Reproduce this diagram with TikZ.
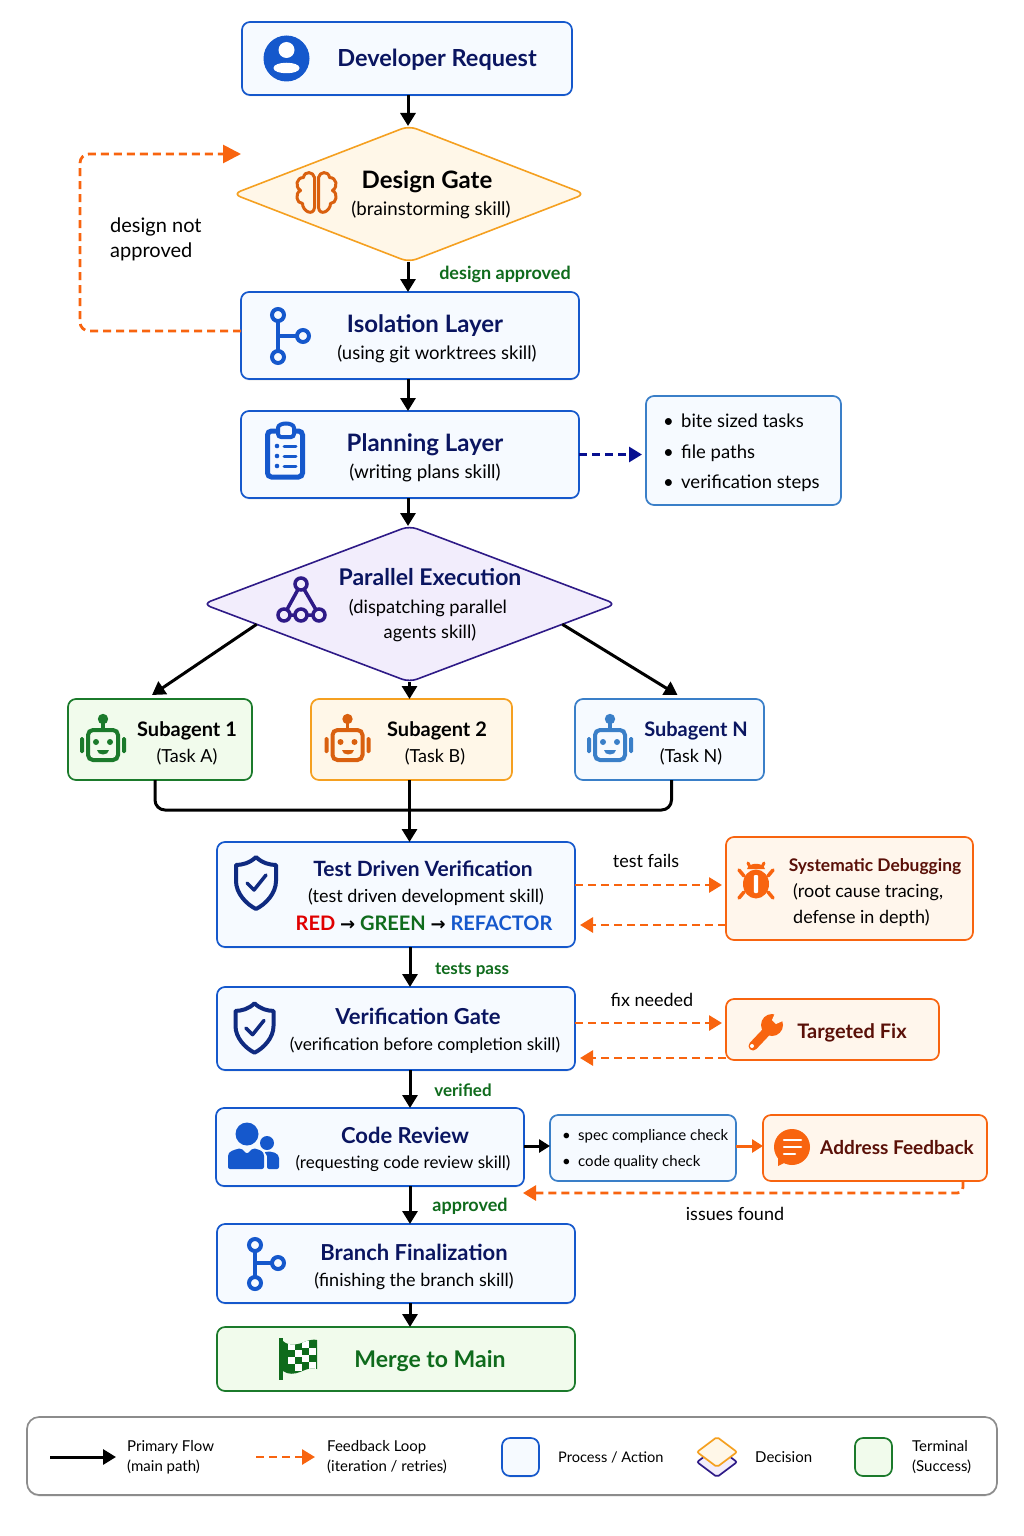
\documentclass[tikz,border=0pt]{standalone}
\usepackage{fontspec}
\setmainfont{Lato}
\newfontfamily\symf{DejaVu Sans}
\usetikzlibrary{arrows.meta,shapes.geometric,calc,shadows}
\definecolor{navy}{HTML}{0A1560}
\definecolor{blueb}{HTML}{1558CC}
\definecolor{bluef}{HTML}{F6FAFF}
\definecolor{lblue}{HTML}{3A7FC8}
\definecolor{oranb}{HTML}{F5A020}
\definecolor{oranf}{HTML}{FFF7E8}
\definecolor{fb}{HTML}{F8640F}
\definecolor{dbf}{HTML}{FFF6EC}
\definecolor{purb}{HTML}{2E1A87}
\definecolor{purf}{HTML}{F2EDFC}
\definecolor{grb}{HTML}{1B7A2B}
\definecolor{grf}{HTML}{F1FBEC}
\definecolor{grt}{HTML}{0F6B1C}
\definecolor{maroon}{HTML}{5A1008}
\definecolor{brainc}{HTML}{D9600F}
\definecolor{shieldc}{HTML}{0F2A80}
\definecolor{rc}{HTML}{E00000}
\newcommand\fs[1]{\fontsize{#1}{#1}\selectfont}
\newcommand\bx[6]{\node[#1,minimum width={(#5-(#3))*1pt},minimum height={(#6-(#4))*1pt}] (#2) at ({(#3+#5)/2},{(#4+#6)/2}) {};}
\newcommand\branchIcon[5]{% x top, y top, x right, y right, y bottom
  \draw[blueb,line width=4] (#1,#2) -- (#1,#5) (#1,#4) -- (#3,#4);
  \foreach \pa/\pb in {#1/#2,#1/#5,#3/#4}{\draw[blueb,line width=4,fill=bluef] (\pa,\pb) circle (6);}
}
\newcommand\robotIcon[3]{\begin{scope}[shift={(#1,#2)}]
  \fill[#3] (0,-26) circle (5.2);
  \draw[#3,line width=3.5] (0,-24) -- (0,-16);
  \draw[#3,line width=4,rounded corners=5pt] (-15,-15) rectangle (15,15);
  \fill[#3,rounded corners=1.5pt] (-23,-8) rectangle (-19,8);
  \fill[#3,rounded corners=1.5pt] (19,-8) rectangle (23,8);
  \fill[#3] (-7,-3) circle (3) (7,-3) circle (3);
  \fill[#3] (-6,5) -- (6,5) .. controls (6,11) and (-6,11) .. (-6,5) -- cycle;
\end{scope}}
\newcommand\shieldIcon[3]{\begin{scope}[shift={(#1,#2)},scale=#3]
  \draw[shieldc,line width=4,line join=round] (0,-26) .. controls (-6,-20) and (-14,-18) .. (-20,-18) -- (-20,-2) .. controls (-20,10) and (-10,21) .. (0,26) .. controls (10,21) and (20,10) .. (20,-2) -- (20,-18) .. controls (14,-18) and (6,-20) .. (0,-26) -- cycle;
  \draw[shieldc,line width=3.5,line cap=round,line join=round] (-9,0) -- (-2,7) -- (10,-8);
\end{scope}}
\tikzset{
  x=1pt,y=-1pt,
  nd/.style={inner sep=0pt,outer sep=0pt,draw,line width=1.7pt,rounded corners=8pt},
  procbox/.style={nd,draw=blueb,fill=bluef,drop shadow={opacity=.15,shadow xshift=0pt,shadow yshift=-1.5pt}},
  bulbox/.style={nd,draw=lblue,fill=bluef},
  agbox/.style={nd,draw=grb,fill=grf},
  orbox/.style={nd,draw=oranb,fill=oranf},
  lbbox/.style={nd,draw=lblue,fill=bluef},
  dbbox/.style={nd,draw=fb,fill=dbf},
  termbox/.style={nd,draw=grb,fill=grf},
  legbox/.style={nd,draw=black!45,fill=white,rounded corners=12pt,drop shadow={opacity=.2,shadow xshift=0pt,shadow yshift=-1.5pt}},
  flow/.style={line width=3pt,black,-{Triangle[length=13pt,width=15pt]}},
  flown/.style={line width=3pt,black},
  fback/.style={line width=2.8pt,fb,dash pattern=on 8pt off 5pt,-{Triangle[length=13pt,width=15pt]}},
  tx/.style={inner sep=0pt,text height=.72em,text depth=.22em},
  txb/.style={tx,yshift=-5pt},
  ttl/.style={tx,yshift=-6pt,font=\fs{24}\bfseries,text=navy},
  ttm/.style={tx,yshift=-6pt,font=\fs{22}\bfseries,text=navy},
  sub/.style={txb,font=\fs{18},text=black},
  oklab/.style={tx,yshift=-4pt,font=\fs{18}\bfseries,text=grt},
  lab/.style={tx,yshift=-4pt,font=\fs{18},text=black},
  leg/.style={inner sep=0pt,anchor=west,font=\fs{15},text=black,align=left},
}
\begin{document}
\begin{tikzpicture}
\useasboundingbox (0,0) rectangle (1024,1536);
\fill[white] (0,0) rectangle (1024,1536);
% boxes
\bx{procbox}{dev}{242}{22}{572}{95}
\node[nd,shape=diamond,draw=oranb,fill=oranf,line width=1.6pt,minimum width=352pt,minimum height=136pt,rounded corners=8pt] (gate) at (409,194) {};
\bx{procbox}{iso}{241}{292}{579}{379}
\bx{procbox}{plan}{241}{411}{579}{498}
\bx{bulbox}{blist}{646}{396}{841}{505}
\node[nd,shape=diamond,draw=purb,fill=purf,line width=1.6pt,minimum width=413pt,minimum height=156pt,rounded corners=8pt] (par) at (409.5,604) {};
\bx{agbox}{suba}{68}{699}{252}{780}
\bx{orbox}{subb}{311}{699}{512}{780}
\bx{lbbox}{subn}{575}{699}{764}{780}
\bx{procbox}{tdv}{217}{842}{575}{947}
\bx{dbbox}{dbg}{726}{837}{973}{940}
\bx{procbox}{vgate}{217}{987}{575}{1070}
\bx{dbbox}{tfix}{726}{999}{939}{1060}
\bx{procbox}{crev}{216}{1108}{524}{1186}
\bx{bulbox}{chk}{550}{1115}{736}{1181}
\bx{dbbox}{addr}{763}{1115}{987}{1181}
\bx{procbox}{bfin}{217}{1224}{575}{1303}
\bx{termbox}{mrgm}{217}{1327}{575}{1391}
\bx{legbox}{lgd}{27}{1417}{997}{1495}
% connectors
\coordinate (ax) at (408,0);
\draw[flow] (dev.south -| ax) -- (gate.north -| ax);
\draw[flow] (gate.south -| ax) -- (iso.north -| ax);
\draw[flow] (iso.south -| ax) -- (plan.north -| ax);
\draw[flow] (plan.south -| ax) -- (par.north -| ax);
\coordinate (gtin) at (241,154);
\coordinate (loopy) at (0,331);
\draw[fback,rounded corners=9pt,-{Triangle[length=18pt,width=18pt]}] (iso.west |- loopy) -- (80,331) -- (80,154) -- (gtin);
\draw[line width=2.8pt,color=navy!70!blue,dash pattern=on 8pt off 5pt,-{Triangle[length=13pt,width=15pt]},shorten >=4pt] (plan.east) -- (plan.east -| blist.west);
\draw[flow] ($(par.west)!0.26!(par.south)$) -- ($(suba.north)+(-8,-4)$);
\draw[flow] ($(par.east)!0.26!(par.south)$) -- ($(subn.north)+(8,-4)$);
\draw[flow] (par.south) -- (par.south |- subb.north);
\coordinate (mrg) at (409.5,810);
\draw[flown,rounded corners=10pt] ($(suba.south)+(-5,0)$) |- (mrg);
\draw[flown,rounded corners=10pt] ($(subn.south)+(2,0)$) |- (mrg);
\draw[flown] (subb.south -| mrg) -- (mrg);
\draw[flow] (mrg) -- (tdv.north -| mrg);
\coordinate (ax2) at (410,0);
\draw[flow] (tdv.south -| ax2) -- (vgate.north -| ax2);
\draw[flow] (vgate.south -| ax2) -- (crev.north -| ax2);
\draw[flow] (crev.south -| ax2) -- (bfin.north -| ax2);
\draw[flow] (bfin.south -| ax2) -- (mrgm.north -| ax2);
\coordinate (fa) at (0,885); \coordinate (fb1) at (0,925); \coordinate (fc) at (0,1023); \coordinate (fd) at (0,1058);
\draw[fback,shorten >=4pt] (tdv.east |- fa) -- (dbg.west |- fa);
\draw[fback,shorten >=5pt] (dbg.west |- fb1) -- (tdv.east |- fb1);
\draw[fback,shorten >=4pt] (vgate.east |- fc) -- (tfix.west |- fc);
\draw[fback,shorten >=5pt] (tfix.west |- fd) -- (vgate.east |- fd);
\coordinate (cy) at (0,1146);
\draw[line width=3pt,black,-{Triangle[length=11pt,width=13pt]}] (crev.east |- cy) -- (chk.west |- cy);
\draw[line width=3pt,fb,-{Triangle[length=11pt,width=13pt]}] (chk.east |- cy) -- (addr.west |- cy);
\coordinate (iy) at (523,1193);
\draw[fback,rounded corners=6pt] ($(addr.south)+(88,0)$) |- (iy);
% labels
\node[ttl,font=\fs{23.5}\bfseries] (tdev) at (437,58) {Developer Request};
\node[ttl,text=black] (tgate) at (427,179.5) {Design Gate};
\node[sub,font=\fs{18.7}] (sgate) at (431,208) {(brainstorming skill)};
\node[oklab] (lapp) at (505,273) {design approved};
\node[inner sep=0pt,align=left,anchor=north west,font=\fontsize{20}{25}\selectfont] (lna) at (110,218) {design not\\approved};
\node[ttl] (tiso) at (425,323.5) {Isolation Layer};
\node[sub,font=\fs{18.5}] (siso) at (437,352) {(using git worktrees skill)};
\node[ttl] (tplan) at (425,442.5) {Planning Layer};
\node[sub,font=\fs{18.8}] (splan) at (425,471) {(writing plans skill)};
\node[inner sep=0pt,anchor=west,align=left,font=\fontsize{18.5}{30.5}\selectfont] (tbl) at (663,453) {\makebox[18pt][l]{\textbullet}bite sized tasks\\\makebox[18pt][l]{\textbullet}file paths\\\makebox[18pt][l]{\textbullet}verification steps};
\node[ttl,font=\fs{23}\bfseries] (tpar) at (430,577) {Parallel Execution};
\node[sub,font=\fs{18.3}] (spara) at (428,606) {(dispatching parallel};
\node[sub,font=\fs{18.3}] (sparb) at (430,631) {agents skill)};
\node[txb,font=\fs{20}\bfseries] (tsa) at (187,729) {Subagent 1};
\node[sub] (ssa) at (187,755) {(Task A)};
\node[txb,font=\fs{20}\bfseries] (tsb) at (437,729) {Subagent 2};
\node[sub] (ssb) at (435,755) {(Task B)};
\node[txb,font=\fs{20}\bfseries,text=navy] (tsn) at (696,729) {Subagent N};
\node[sub] (ssn) at (691,755) {(Task N)};
\node[ttm,font=\fs{21}\bfseries] (ttdv) at (423,868) {Test Driven Verification};
\node[sub] (stdv) at (426,895) {(test driven development skill)};
\node[txb,font=\fs{20}\bfseries] (rgr) at (424,923) {\textcolor{rc}{RED} {\symf\fs{18}→} \textcolor{grt}{GREEN} {\symf\fs{18}→} \textcolor{blueb}{REFACTOR}};
\node[lab] (ltf) at (646,861) {test fails};
\node[tx,yshift=-4pt,font=\fs{17.4}\bfseries,text=maroon] (tdbg) at (875,865) {Systematic Debugging};
\node[inner sep=0pt,anchor=west,align=left,font=\fontsize{18}{26}\selectfont] (sdbg) at (793,905) {(root cause tracing,\\defense in depth)};
\node[oklab,font=\fs{17}\bfseries] (ltp) at (472,968) {tests pass};
\node[ttm] (tvg) at (418,1016) {Verification Gate};
\node[sub,font=\fs{17.3}] (svg) at (425,1043) {(verification before completion skill)};
\node[lab] (lfn) at (652,1000) {fix needed};
\node[txb,font=\fs{20}\bfseries,text=maroon] (ttf) at (852,1031) {Targeted Fix};
\node[oklab,font=\fs{17}\bfseries] (lver) at (463,1090) {verified};
\node[ttm] (tcr) at (405,1135) {Code Review};
\node[sub,font=\fs{17}] (scr) at (403,1161) {(requesting code review skill)};
\node[inner sep=0pt,anchor=west,align=left,font=\fontsize{15}{26}\selectfont] (tchk) at (562,1149) {\makebox[16pt][l]{\textbullet}spec compliance check\\\makebox[16pt][l]{\textbullet}code quality check};
\node[txb,font=\fs{19}\bfseries,text=maroon] (taf) at (897,1147) {Address Feedback};
\node[oklab] (lok) at (470,1205) {approved};
\node[lab] (lif) at (735,1214) {issues found};
\node[ttm] (tbf) at (414,1252) {Branch Finalization};
\node[sub] (sbf) at (414,1279) {(finishing the branch skill)};
\node[tx,yshift=-6pt,font=\fs{23}\bfseries,text=grt] (tmm) at (430,1359) {Merge to Main};
% icons
\fill[blueb] (286.5,58.5) circle (23);
\begin{scope}[shift={(286.5,58)}]
\fill[white] (0,-8) circle (8);
\fill[white] (-13,10) .. controls (-13,3) and (13,3) .. (13,10) .. controls (13,17) and (-13,17) .. (-13,10) -- cycle;
\end{scope}
\begin{scope}[shift={(316.5,192.5)}]
\foreach \sx in {1,-1}{\begin{scope}[xscale=\sx]
\draw[brainc,line width=3pt,line join=round] (-2,-15) .. controls (-3,-21) and (-12,-22) .. (-13,-15) .. controls (-20,-15) and (-22,-6) .. (-16,-2) .. controls (-22,1) and (-20,11) .. (-14,11) .. controls (-14,19) and (-3,24) .. (-2,15) -- cycle;
\end{scope}}
\end{scope}
\branchIcon{278}{315}{303}{336}{357}
\branchIcon{255}{1245}{278}{1263}{1283}
\begin{scope}[blueb]
\draw[line width=5pt,rounded corners=4pt,fill=bluef] (267.5,431) rectangle (302.5,477);
\draw[line width=4pt,fill=bluef,rounded corners=3pt] (278,437) -- (278,431) .. controls (278,422) and (294,422) .. (294,431) -- (294,437) -- cycle;
\foreach \ry in {446,456,466}{\fill (277,\ry) circle (2.3); \draw[line width=3pt,line cap=round] (284,\ry) -- (296,\ry);}
\end{scope}
\begin{scope}[purb]
\draw[line width=3.5pt] (301,584) -- (284,615) -- (319,615) -- cycle;
\foreach \pa/\pb in {301/584,284/615,301/615,319/615}{\draw[line width=3.5pt,fill=purf] (\pa,\pb) circle (6);}
\end{scope}
\robotIcon{103}{745}{grb}
\robotIcon{347.5}{745}{brainc}
\robotIcon{610}{745}{lblue}
\shieldIcon{256}{883}{1}
\shieldIcon{254.5}{1028}{.95}
\begin{scope}[shift={(756,884)}]
\fill[fb] (0,0) ellipse (13 and 14.5);
\fill[fb] (-9,-15) .. controls (-7,-22) and (7,-22) .. (9,-15) -- cycle;
\draw[fb,line width=3pt,line cap=round] (-6,-17) -- (-8,-21) (6,-17) -- (8,-21);
\fill[white,rounded corners=1pt] (-2.2,-9) rectangle (2.2,9);
\foreach \sx in {1,-1}{\draw[fb,line width=3.5pt,line cap=round] (\sx*12,-8) -- (\sx*17,-14) (\sx*12,8) -- (\sx*17,14);}
\end{scope}
\begin{scope}
\draw[fb,line width=9pt,line cap=round] (753,1046) -- (770,1028);
\fill[fb] (772,1025) circle (11);
\fill[dbf] (775,1013) -- (785,1013) -- (785,1020) -- (776,1024) -- (772,1020) -- cycle;
\fill[white] (752,1046) circle (2);
\end{scope}
\begin{scope}[blueb]
\fill (247,1134) circle (11.5);
\fill (267,1143) circle (7);
\fill[rounded corners=2pt] (228,1169) -- (228,1158) .. controls (228,1151) and (234,1150) .. (241,1148) -- (247,1154) -- (253,1148) .. controls (260,1150) and (264,1151) .. (264,1158) -- (264,1169) -- cycle;
\fill[rounded corners=2pt] (267,1169) -- (267,1158) .. controls (267,1155) and (265,1153) .. (264,1152) .. controls (272,1151) and (279,1153) .. (279,1160) -- (279,1169) -- cycle;
\end{scope}
\fill[fb] (792,1147) circle (18);
\fill[fb] (778,1155) -- (778,1166) -- (790,1160) -- cycle;
\draw[white,line width=2.5pt,line cap=round] (784,1140) -- (801,1140) (784,1147) -- (801,1147) (784,1154) -- (795,1154);
\draw[grt,line width=3.5pt] (281,1338) -- (281,1380);
\begin{scope}
\path[clip] (283,1341) .. controls (289,1347) and (300,1344) .. (304,1342) .. controls (309,1340) and (314,1339) .. (317,1340) -- (317,1369) .. controls (310,1367) and (305,1370) .. (300,1372) .. controls (295,1374) and (288,1375) .. (283,1371) -- cycle;
\fill[grt] (280,1335) rectangle (320,1380);
\foreach \cx/\cy in {288/1343,302/1341,295/1350,309/1348,288/1357,302/1355,295/1364,309/1362}{\fill[white] (\cx,\cy) rectangle ++(7,7);}
\end{scope}
% legend
\coordinate (la1) at (50,1457); \coordinate (la2) at (116,1457);
\draw[flow] (la1) -- (la2);
\coordinate (lb1) at (256,1457); \coordinate (lb2) at (315,1457);
\draw[fback] (lb1) -- (lb2);
\node[leg,font=\fontsize{15}{19.5}\selectfont] (lg1) at (127,1457) {Primary Flow\\(main path)};
\node[leg,font=\fontsize{15}{19.5}\selectfont] (lg2) at (327,1457) {Feedback Loop\\(iteration / retries)};
\bx{procbox}{swa}{502}{1438}{539}{1476}
\node[leg,font=\fs{14.6}] (lg3) at (558,1457) {Process / Action};
\node[nd,shape=diamond,draw=purb,fill=purf,minimum width=40pt,minimum height=30pt,rounded corners=2pt] (swc) at (717,1462) {};
\node[nd,shape=diamond,draw=oranb,fill=oranf,minimum width=40pt,minimum height=30pt,rounded corners=2pt] (swb) at (717,1452) {};
\node[leg] (lg4) at (755,1457) {Decision};
\bx{termbox}{swd}{855}{1438}{892}{1476}
\node[leg,font=\fontsize{15}{19.5}\selectfont] (lg5) at (912,1457) {Terminal\\(Success)};
\end{tikzpicture}
\end{document}
